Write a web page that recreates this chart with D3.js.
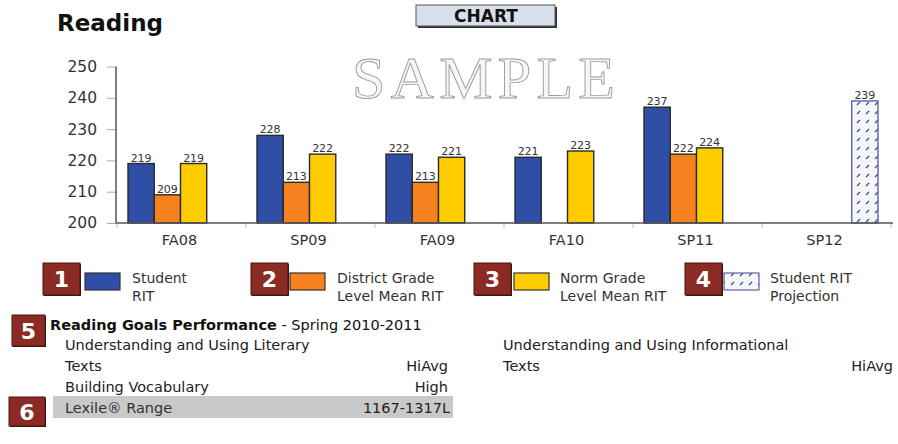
<!DOCTYPE html>
<html><head><meta charset="utf-8">
<script src="https://cdn.jsdelivr.net/npm/d3@7"></script>
<style>body{margin:0;background:#fff}svg{display:block}</style>
</head><body>
<svg id="c" width="898" height="444"></svg>
<script>
const categories = ["FA08","SP09","FA09","FA10","SP11","SP12"];
const seriesNames = ["Student RIT","District Grade Level Mean RIT","Norm Grade Level Mean RIT","Student RIT Projection"];
const studentRIT = [219,228,222,221,237,null];
const districtMean = [209,213,213,null,222,null];
const normMean = [219,222,221,223,224,null];
const projection = [null,null,null,null,null,239];
const yTicks = [200,210,220,230,240,250];
const goalsLeft = [["Understanding and Using Literary","Texts","HiAvg"],["Building Vocabulary",null,"High"]];
const goalsRight = [["Understanding and Using Informational","Texts","HiAvg"]];
const lexile = ["Lexile® Range","1167-1317L"];

const seriesValues = [studentRIT, districtMean, normMean, projection];
const colors = ["#2f4fa6","#f5821f","#ffcc00","url(#hatch)"];
const FONT = "DejaVu Sans, Arial, sans-serif";

const svg = d3.select("#c");
const defs = svg.append("defs");
const pat = defs.append("pattern").attr("id","hatch").attr("patternUnits","userSpaceOnUse")
  .attr("width",9).attr("height",9);
pat.append("rect").attr("width",9).attr("height",9).attr("fill","#f6f6fb");
pat.append("line").attr("x1",2).attr("y1",6).attr("x2",5).attr("y2",3)
  .attr("stroke","#3a4aa0").attr("stroke-width",1.3);

// Title
svg.append("text").attr("x",57).attr("y",31).attr("font-family",FONT).attr("font-weight","bold")
  .attr("font-size",23).attr("fill","#111").text("Reading");

// CHART button
svg.append("rect").attr("x",418).attr("y",7).attr("width",139).attr("height",21).attr("fill","#333");
svg.append("rect").attr("x",416).attr("y",5).attr("width",139).attr("height",21)
  .attr("fill","#d8e0ec").attr("stroke","#555").attr("stroke-width",1);
svg.append("text").attr("x",486).attr("y",22).attr("text-anchor","middle").attr("font-family",FONT)
  .attr("font-weight","bold").attr("font-size",17).attr("fill","#111").text("CHART");

// Watermark
svg.append("text").attr("x",352).attr("y",98).attr("font-family","Liberation Serif, Times New Roman, serif")
  .attr("font-size",60).attr("textLength",263).attr("lengthAdjust","spacing")
  .attr("fill","#f6f6f6").attr("stroke","#9a9a9a").attr("stroke-width",0.9).text("SAMPLE");

// Scales
const y = d3.scaleLinear().domain([200,250]).range([223,66.5]);
const x0 = d3.scaleBand().domain(categories).range([117,891]).padding(0);
const x1 = d3.scaleBand().domain(seriesNames).range([11,116]).padding(0);

// Y axis
const yAxis = svg.append("g").attr("transform","translate(116,0)")
  .call(d3.axisLeft(y).tickValues(yTicks).tickSize(9).tickPadding(10));
yAxis.select(".domain").remove();
yAxis.selectAll(".tick line").attr("stroke","#aaa");
yAxis.selectAll(".tick text").attr("font-family",FONT).attr("font-size",15.5).attr("fill","#333");
svg.append("line").attr("x1",116).attr("x2",116).attr("y1",y(250)).attr("y2",y(200))
  .attr("stroke","#555").attr("stroke-width",1.5);

// X axis
const xAxis = svg.append("g").attr("transform","translate(-2,223)")
  .call(d3.axisBottom(x0).tickSize(0).tickPadding(12));
xAxis.select(".domain").remove();
xAxis.selectAll(".tick text").attr("font-family",FONT).attr("font-size",14.5).attr("fill","#333");
svg.append("g").selectAll("line").data(categories.concat(["end"])).join("line")
  .attr("x1",(d,i)=>x0.range()[0]+i*x0.step()).attr("x2",(d,i)=>x0.range()[0]+i*x0.step())
  .attr("y1",223).attr("y2",228).attr("stroke","#bbb");

// Bars
const barData = [];
categories.forEach((c,ci)=>seriesValues.forEach((arr,si)=>{
  if(arr[ci]!=null) barData.push({c, s:seriesNames[si], si, v:arr[ci]});
}));
const bars = svg.append("g");
bars.selectAll("rect").data(barData).join("rect")
  .attr("x",d=>x0(d.c)+x1(d.s)).attr("width",x1.bandwidth())
  .attr("y",d=>y(d.v)).attr("height",d=>y(200)-y(d.v))
  .attr("fill",d=>colors[d.si])
  .attr("stroke",d=>d.si===3?"#5a64a8":"#2a2a2a").attr("stroke-width",1.4);
bars.selectAll("text").data(barData).join("text")
  .attr("x",d=>x0(d.c)+x1(d.s)+x1.bandwidth()/2).attr("y",d=>y(d.v)-2)
  .attr("text-anchor","middle").attr("font-family",FONT).attr("font-size",11).attr("fill","#333")
  .text(d=>d.v);

svg.append("line").attr("x1",116).attr("x2",893).attr("y1",223).attr("y2",223)
  .attr("stroke","#555").attr("stroke-width",1.5);

// Badge helper
function badge(x,yy,w,h,num){
  svg.append("rect").attr("x",x+1).attr("y",yy+1).attr("width",w).attr("height",h).attr("fill","#3a1a16");
  svg.append("rect").attr("x",x).attr("y",yy).attr("width",w).attr("height",h)
    .attr("fill","#8c2b23").attr("stroke","#4a1510").attr("stroke-width",1);
  svg.append("text").attr("x",x+w/2).attr("y",yy+h/2+8).attr("text-anchor","middle")
    .attr("font-family",FONT).attr("font-weight","bold").attr("font-size",22).attr("fill","#fff").text(num);
}

// Legend
const legendItems = [
  {bx:43, sx:85, tx:132, lines:["Student","RIT"]},
  {bx:251, sx:290, tx:337, lines:["District Grade","Level Mean RIT"]},
  {bx:474, sx:514, tx:560, lines:["Norm Grade","Level Mean RIT"]},
  {bx:685, sx:724, tx:770, lines:["Student RIT","Projection"]}
];
legendItems.forEach((it,i)=>{
  badge(it.bx,263,37,32,String(i+1));
  svg.append("rect").attr("x",it.sx).attr("y",273).attr("width",35).attr("height",17)
    .attr("fill",colors[i]).attr("stroke",i===3?"#5a64a8":"#333").attr("stroke-width",1.2);
  it.lines.forEach((l,j)=>svg.append("text").attr("x",it.tx).attr("y",283+j*18)
    .attr("font-family",FONT).attr("font-size",14).attr("fill","#333").text(l));
});

// Goals section
badge(12,315,33,31,"5");
const gt = svg.append("text").attr("x",50).attr("y",330).attr("font-family",FONT).attr("font-size",14.5).attr("fill","#111");
gt.append("tspan").attr("font-weight","bold").text("Reading Goals Performance");
gt.append("tspan").text(" - Spring 2010-2011");

function goalRows(rows, xl, xr){
  let yy = 350;
  rows.forEach(r=>{
    svg.append("text").attr("x",xl).attr("y",yy).attr("font-family",FONT).attr("font-size",14.5).attr("fill","#222").text(r[0]);
    if(r[1]){ yy += 21;
      svg.append("text").attr("x",xl).attr("y",yy).attr("font-family",FONT).attr("font-size",14.5).attr("fill","#222").text(r[1]);
    }
    svg.append("text").attr("x",xr).attr("y",yy).attr("text-anchor","end").attr("font-family",FONT).attr("font-size",14.5).attr("fill","#222").text(r[2]);
    yy += 21;
  });
}
goalRows(goalsLeft,65,448);
goalRows(goalsRight,503,893);

svg.append("rect").attr("x",53).attr("y",396).attr("width",400).attr("height",22).attr("fill","#c9c9c9");
svg.append("text").attr("x",65).attr("y",413).attr("font-family",FONT).attr("font-size",14.5).attr("fill","#333").text(lexile[0]);
svg.append("text").attr("x",450).attr("y",413).attr("text-anchor","end").attr("font-family",FONT).attr("font-size",14.5).attr("fill","#222").text(lexile[1]);
badge(9,397,36,29,"6");
</script>
</body></html>
